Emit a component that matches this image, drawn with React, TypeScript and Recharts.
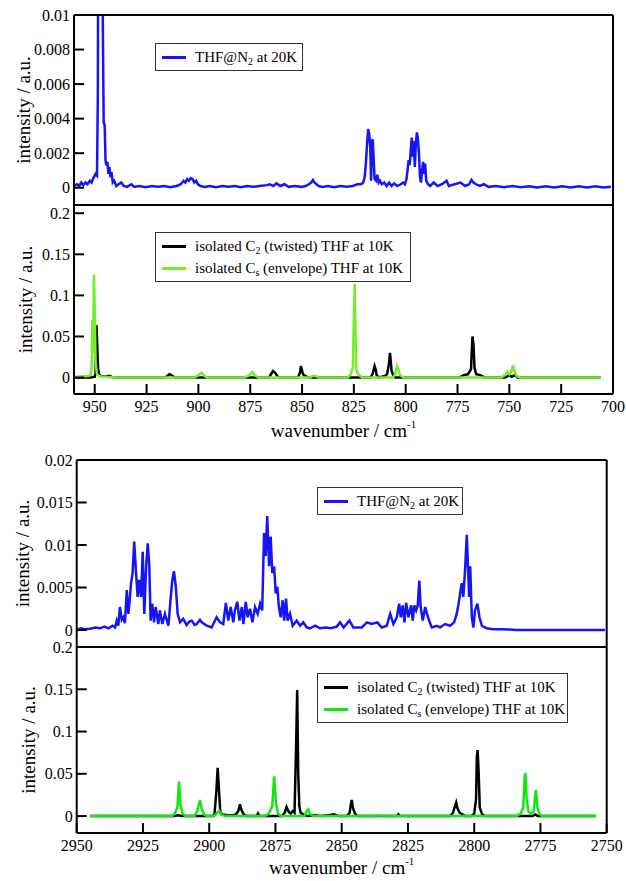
import React from "react";
import { LineChart, Line, XAxis, YAxis, Legend } from "recharts";

type Pt = [number, number];

// ---- 960-700 cm-1 window ----
const lowN2: Pt[] = [
  [960, 0.0001], [958.5, 0.0002], [957.5, 0.0001], [956.5, 0.0003], [955.5, 0.00015], [954.5, 0.0003],
  [953.5, 0.0002], [952.3, 0.0004], [951.5, 0.0003], [950.5, 0.0006], [949.6, 0.0008], [948.9, 0.0007],
  [948.5, 0.0053], [948.2, 0.02], [947.8, 0.013], [947.3, 0.022], [946.8, 0.016], [946.2, 0.011],
  [945.7, 0.0038], [945.2, 0.0036], [944.8, 0.0016], [944.4, 0.0013], [943.9, 0.0015], [943.4, 0.0008],
  [942.9, 0.0012], [942.4, 0.0006], [941.9, 0.0009], [941.3, 0.0003], [940.6, 0.0004], [939.6, 0.0001],
  [938.5, 0.0002], [937.2, 0.0003], [936, 0.0001], [934.5, 0.00005], [932.3, 0.0002], [931, 0.00005],
  [928.5, 0.0001], [925.5, 0.00003], [922.5, 0.0001], [919.5, 0.00005], [916.5, 0.0001], [913.5, 0.00003],
  [910.5, 0.0001], [908.5, 0.0002], [907.2, 0.0004], [906.3, 0.0003], [905.4, 0.0005], [904.6, 0.0004],
  [903.6, 0.00056], [902.8, 0.0005], [902, 0.0003], [901.1, 0.0004], [900.2, 0.0002], [899, 0.0001],
  [897, 0.00005], [894.5, 0.0001], [891.5, 0.00003], [888.5, 0.0001], [885.5, 0.00005], [882.5, 0.0001],
  [879.5, 0.00003], [876.5, 0.0001], [873.5, 0.00005], [870.5, 0.0001], [867, 0.00015], [865.5, 0.0002],
  [864, 0.0001], [862.3, 0.00025], [860.5, 0.0001], [858.5, 0.0002], [856.5, 0.00005], [853.5, 0.0001],
  [850.5, 0.00005], [848.3, 0.0001], [846.7, 0.0002], [845.6, 0.0003], [844.7, 0.00045], [844, 0.0003],
  [843, 0.0002], [842, 0.0001], [840, 0.00005], [837.5, 0.0001], [834.5, 0.00003], [831.5, 0.0001],
  [828.5, 0.00005], [825.5, 0.0001], [823.3, 0.0002], [821.5, 0.0002], [820.5, 0.0003], [819.8, 0.0006],
  [819.2, 0.0014], [818.6, 0.0026], [818.1, 0.0034], [817.6, 0.0031], [817.1, 0.0024], [816.7, 0.0004],
  [816.3, 0.0027], [815.9, 0.0028], [815.5, 0.0018], [815, 0.0005], [814.3, 0.0004], [813.7, 0.00075],
  [813, 0.0003], [812.4, 0.0004], [811.5, 0.0002], [810.3, 0.0003], [809.2, 0.0001], [808, 0.0003],
  [806.8, 0.0001], [805.6, 0.00025], [804.1, 0.0001], [802.4, 0.0002], [801.3, 0.0003], [800.4, 0.0002],
  [799.6, 0.0005], [799.1, 0.001], [798.6, 0.0016], [798.1, 0.0013], [797.6, 0.0021], [797.1, 0.0029],
  [796.6, 0.0018], [796.1, 0.0027], [795.6, 0.0012], [795.1, 0.0025], [794.6, 0.0032], [794.1, 0.0028],
  [793.6, 0.002], [793.1, 0.0006], [792.6, 0.0003], [792.1, 0.001], [791.6, 0.0015], [791.1, 0.0008],
  [790.6, 0.0014], [790.1, 0.0004], [789.2, 0.0002], [788.2, 0.0001], [786.5, 0.0003], [784.6, 0.0001],
  [782.5, 0.0002], [780.3, 0.0004], [779.2, 0.0001], [776.4, 0.0002], [773.6, 0.0003], [771.3, 0.0001],
  [769.4, 0.0002], [768.3, 0.00046], [767.3, 0.0003], [766.1, 0.0002], [764.2, 0.0001], [762.3, 0.0002],
  [760.1, 0.00005], [756.5, 0.0001], [752.5, 0.00003], [748.5, 0.0001], [744.5, 0.00003], [740.5, 0.00008],
  [736.5, 0.00002], [732.5, 0.00008], [728.5, 0.00002], [724.5, 0.00008], [720.5, 0.00002], [716.5, 0.00008],
  [712.5, 0.00002], [708.5, 0.00008], [704.5, 0.00002], [701, 0.00005],
];

const lowC2: Pt[] = [
  [960, 0], [952, 0], [950, 0.001], [949.6, 0.006], [949.2, 0.064], [948.8, 0.04], [948.4, 0.012],
  [948, 0.004], [947, 0.002], [945, 0.001], [943, 0.002], [941, 0], [916, 0], [915, 0.002], [914, 0.004],
  [913, 0.003], [912, 0.001], [911, 0], [866, 0], [865, 0.004], [864, 0.008], [863, 0.006], [862, 0.002],
  [861, 0], [852, 0], [851, 0.006], [850.5, 0.014], [850, 0.008], [849.5, 0.004], [848.5, 0.002], [847, 0],
  [817, 0], [816, 0.004], [815, 0.014], [814.5, 0.01], [814, 0.003], [813, 0], [810, 0.002], [809, 0.004],
  [808, 0.018], [807.6, 0.03], [807.2, 0.02], [806.8, 0.008], [806, 0.003], [805, 0], [774, 0],
  [772, 0.003], [770, 0.004], [768.5, 0.01], [767.8, 0.05], [767.3, 0.04], [766.8, 0.012], [766, 0.004],
  [764, 0.003], [762, 0], [752, 0], [750, 0.003], [749, 0.001], [747, 0.003], [746, 0], [706, 0],
];

const lowCs: Pt[] = [
  [960, 0.001], [953, 0.002], [952, 0.003], [951.5, 0.01], [951.1, 0.07], [950.8, 0.03], [950.4, 0.125],
  [950, 0.085], [949.6, 0.02], [949, 0.005], [948, 0.002], [946, 0.001], [940, 0], [902, 0],
  [900.5, 0.002], [899.5, 0.004], [898.5, 0.006], [897.5, 0.003], [896, 0], [878, 0], [876, 0.002],
  [875, 0.004], [874, 0.007], [873, 0.003], [871, 0], [846, 0], [845, 0.002], [843.5, 0.002], [842, 0],
  [828, 0], [826.5, 0.004], [825.5, 0.012], [825, 0.07], [824.6, 0.114], [824.2, 0.05], [823.8, 0.01],
  [823, 0.004], [821, 0], [806, 0], [805, 0.005], [804.2, 0.014], [803.5, 0.01], [802.8, 0.003], [801, 0],
  [754, 0], [752, 0.003], [751, 0.007], [750, 0.004], [749, 0.008], [748.3, 0.015], [747.6, 0.008],
  [746.5, 0.002], [745, 0], [706, 0],
];

// ---- 2950-2750 cm-1 window ----
const highN2: Pt[] = [
  [2949.4, 0.0001], [2948.5, 0.0002], [2947, 0.0001], [2945, 0.00015], [2943, 0.0003], [2941.2, 0.0002],
  [2939.5, 0.0004], [2938, 0.0002], [2936.5, 0.0005], [2935.5, 0.0003], [2934.9, 0.0011], [2934.3, 0.0005],
  [2933.7, 0.0027], [2933, 0.0012], [2932.4, 0.0015], [2931.8, 0.0008], [2931.1, 0.0047], [2930.5, 0.0019],
  [2930, 0.0035], [2929.5, 0.0055], [2928.9, 0.0067], [2928.3, 0.0104], [2927.6, 0.0067], [2927, 0.0039],
  [2926.4, 0.0059], [2925.7, 0.0039], [2925.1, 0.0092], [2924.5, 0.0019], [2923.8, 0.0075], [2923.2, 0.0102],
  [2922.6, 0.0075], [2922.1, 0.0011], [2921.5, 0.0031], [2920.8, 0.0009], [2920.2, 0.0027], [2919.2, 0.0007],
  [2918.6, 0.0023], [2917.7, 0.0007], [2916.7, 0.0019], [2915.4, 0.0005], [2914.5, 0.0039], [2913.9, 0.0059],
  [2913.3, 0.0069], [2912.6, 0.0051], [2911.9, 0.0019], [2911, 0.0009], [2909.8, 0.0013], [2908.5, 0.0006],
  [2907.5, 0.001], [2906.6, 0.0011], [2905.5, 0.0006], [2904.7, 0.0007], [2903.5, 0.0012], [2902.8, 0.0009],
  [2900.9, 0.0005], [2899.1, 0.0003], [2897.2, 0.0015], [2895.9, 0.0009], [2894.7, 0.0007], [2893.7, 0.0032],
  [2892.8, 0.0011], [2891.9, 0.0027], [2890.9, 0.0009], [2890.3, 0.0023], [2889.4, 0.0033], [2888.6, 0.0011],
  [2887.7, 0.0027], [2887.1, 0.0007], [2886.2, 0.0033], [2885.5, 0.0015], [2884.6, 0.0025], [2883.7, 0.0009],
  [2882.7, 0.0027], [2881.7, 0.0019], [2880.8, 0.0031], [2880, 0.0023], [2879.3, 0.0114], [2878.7, 0.0087],
  [2878.1, 0.0134], [2877.4, 0.0075], [2876.8, 0.011], [2876.2, 0.0067], [2875.5, 0.0075], [2874.9, 0.0043],
  [2874.3, 0.0051], [2873.7, 0.0027], [2873, 0.0015], [2872.3, 0.0035], [2871.7, 0.0011], [2871, 0.0037],
  [2870.4, 0.0011], [2869.5, 0.0019], [2868.5, 0.0005], [2867, 0.0011], [2865.7, 0.0005], [2864.5, 0.0009],
  [2863.2, 0.0003], [2862, 0.0002], [2860, 0.0005], [2858.2, 0.0002], [2856, 0.0003], [2854, 0.0002],
  [2851.9, 0.0004], [2850.6, 0.0009], [2849.3, 0.0003], [2847.1, 0.0011], [2845.6, 0.0003], [2842.4, 0.0003],
  [2840.5, 0.0009], [2838.7, 0.0007], [2836.5, 0.0009], [2834.9, 0.0003], [2833, 0.0005], [2831.7, 0.0019],
  [2830.5, 0.0007], [2829.2, 0.0015], [2828.3, 0.0031], [2827.7, 0.0015], [2827, 0.0029], [2826.3, 0.0009],
  [2825.7, 0.0032], [2824.8, 0.0015], [2823.8, 0.0029], [2823.2, 0.0011], [2822.6, 0.0029], [2821.9, 0.0023],
  [2821.3, 0.0029], [2820.7, 0.0058], [2820.2, 0.0027], [2819.4, 0.0011], [2818.5, 0.0027], [2817.8, 0.0019],
  [2817, 0.0011], [2816, 0.0003], [2814.1, 0.0005], [2812.9, 0.0003], [2811, 0.0007], [2809.1, 0.0005],
  [2807.6, 0.0009], [2806.6, 0.0019], [2805.9, 0.0031], [2804.7, 0.0055], [2804.1, 0.0039], [2803.4, 0.0073],
  [2802.8, 0.0112], [2802.4, 0.0079], [2801.9, 0.0039], [2801.5, 0.0075], [2800.9, 0.0015], [2800.3, 0.0003],
  [2799.7, 0.0023], [2798.8, 0.0031], [2798, 0.0015], [2797.1, 0.0005], [2795.3, 0.0002], [2793, 0.0001],
  [2790.2, 0.0001], [2787, 0.00005], [2783.9, 0], [2775, 0], [2765, 0], [2752.5, 0], [2750.6, 0],
];

const highC2: Pt[] = [
  [2945, 0], [2913, 0], [2912, 0.001], [2910, 0], [2898.5, 0], [2898, 0.002], [2897.3, 0.03],
  [2896.8, 0.057], [2896.3, 0.03], [2895.8, 0.004], [2895, 0.002], [2893, 0.001], [2891, 0.001],
  [2890, 0.002], [2889, 0.006], [2888.4, 0.014], [2887.8, 0.007], [2887, 0.002], [2886, 0], [2882, 0],
  [2881.6, 0.003], [2881, 0], [2872.5, 0], [2871.5, 0.004], [2870.8, 0.011], [2870, 0.005], [2869.2, 0.003],
  [2868.5, 0.006], [2867.8, 0.004], [2867.2, 0.084], [2866.8, 0.149], [2866.4, 0.05], [2866, 0.012],
  [2865.5, 0.004], [2864.5, 0.002], [2863, 0], [2860, 0.001], [2858, 0], [2855, 0.001], [2853, 0.002],
  [2851, 0], [2848, 0], [2847, 0.004], [2846.5, 0.015], [2846.2, 0.019], [2845.8, 0.01], [2845, 0.003],
  [2844, 0], [2829, 0], [2828.6, 0.002], [2828, 0], [2809, 0], [2808, 0.004], [2807.2, 0.012],
  [2806.8, 0.016], [2806.3, 0.009], [2805.5, 0.004], [2804.5, 0.002], [2803.5, 0], [2801, 0], [2800, 0.003],
  [2799.3, 0.02], [2799, 0.07], [2798.7, 0.078], [2798.3, 0.05], [2797.9, 0.01], [2797, 0.002], [2796, 0],
  [2778, 0], [2777, 0.002], [2776, 0], [2754, 0],
];

const highCs: Pt[] = [
  [2945, 0], [2914, 0], [2913, 0.003], [2912, 0.01], [2911.4, 0.041], [2910.8, 0.012], [2910, 0.003],
  [2909, 0], [2905.5, 0], [2904.5, 0.006], [2903.5, 0.019], [2902.8, 0.008], [2902, 0.002], [2901, 0],
  [2898, 0], [2897, 0.004], [2896.2, 0.006], [2895.5, 0.002], [2894, 0], [2879, 0], [2877.5, 0.003],
  [2876.2, 0.012], [2875.5, 0.047], [2874.8, 0.015], [2874, 0.003], [2873, 0], [2864, 0], [2863.2, 0.006],
  [2862.6, 0.008], [2862, 0.003], [2861, 0], [2837, 0], [2836.1, 0.001], [2835, 0], [2784, 0],
  [2782.5, 0.003], [2781.5, 0.01], [2781, 0.045], [2780.7, 0.051], [2780.2, 0.02], [2779.5, 0.005],
  [2778.5, 0.003], [2777.5, 0.006], [2777, 0.025], [2776.7, 0.031], [2776.2, 0.012], [2775.5, 0.003],
  [2774.5, 0], [2754, 0],
];

// ---- axis ticks ----
const lowMajorX = [950, 925, 900, 875, 850, 825, 800, 775, 750, 725, 700];
const lowMinorX = [937.5, 912.5, 887.5, 862.5, 837.5, 812.5, 787.5, 762.5, 737.5, 712.5];
const highMajorX = [2950, 2925, 2900, 2875, 2850, 2825, 2800, 2775, 2750];
const highMinorX = [2937.5, 2912.5, 2887.5, 2862.5, 2837.5, 2812.5, 2787.5, 2762.5];

const lowN2MajorY = [0, 0.002, 0.004, 0.006, 0.008, 0.01];
const lowN2MinorY = [0.001, 0.003, 0.005, 0.007, 0.009];
const highN2MajorY = [0, 0.005, 0.01, 0.015, 0.02];
const highN2MinorY = [0.0025, 0.0075, 0.0125, 0.0175];
const isoMajorY = [0, 0.05, 0.1, 0.15, 0.2];
const isoMinorY = [0.025, 0.075, 0.125, 0.175];

const N2_LABEL = "THF@N_2 at 20K";
const C2_LABEL = "isolated C_2 (twisted) THF at 10K";
const CS_LABEL = "isolated C_s (envelope) THF at 10K";

const BLUE = "#1515f5";
const BLACK = "#000";
const LIME = "#72ee2a";
const GREEN = "#14e614";

const SERIF = '"Liberation Serif", "DejaVu Serif", serif';
const W = 626;
const EPS = 0.001; // axes need a non-zero size to render
const FRAME = { stroke: "#000", strokeWidth: 2 };
const TICK_LINE = { stroke: "#000", strokeWidth: 2 };
const TICK_TEXT = { fill: "#000", fontSize: 16, fontFamily: SERIF };

interface Series {
  name: string;
  color: string;
  points: Pt[];
}

interface PanelProps {
  top: number;
  height: number;
  margin: { top: number; right: number; bottom: number; left: number };
  xDomain: [number, number];
  xMajor: number[];
  xMinor: number[];
  yDomain: [number, number];
  yMajor: number[];
  yMinor: number[];
  series: Series[];
  legendAt: { left: number; top: number; width: number };
  yTitleGap: number;
  xTitleGap?: number;
}

// "C_2" -> C with a subscript 2
function withSubscripts(text: string) {
  return text.split(/_(\w)/).map((part, i) =>
    i % 2 === 1 ? (
      <span key={i} style={{ fontSize: 10, position: "relative", top: 4 }}>{part}</span>
    ) : (
      <span key={i} style={{ whiteSpace: "pre" }}>{part}</span>
    )
  );
}

function LegendBox({ payload, width }: { payload?: any[]; width: number }) {
  return (
    <div
      style={{
        width,
        boxSizing: "border-box",
        border: "1px solid #333",
        background: "#fff",
        padding: "2px 0 2px 6px",
        fontFamily: SERIF,
      }}
    >
      {(payload ?? []).map((e: any) => (
        <div
          key={e.value}
          style={{ display: "flex", alignItems: "center", height: 22, fontSize: 15, color: "#000", whiteSpace: "nowrap" }}
        >
          <span style={{ width: 24, height: 3, background: e.color, marginRight: 9, flex: "none" }} />
          {withSubscripts(e.value)}
        </div>
      ))}
    </div>
  );
}

function Panel(p: PanelProps) {
  const plotW = W - p.margin.left - p.margin.right;
  const plotH = p.height - p.margin.top - p.margin.bottom;
  const showX = p.xTitleGap !== undefined;

  const yTitle = (props: any) => {
    const vb = props?.viewBox ?? { x: p.margin.left, y: p.margin.top, width: 0, height: plotH };
    const cx = vb.x - p.yTitleGap;
    const cy = vb.y + vb.height / 2;
    return (
      <text
        x={cx}
        y={cy}
        transform={`rotate(-90 ${cx} ${cy})`}
        textAnchor="middle"
        fontSize={19}
        fontFamily={SERIF}
        fill="#000"
      >
        intensity / a.u.
      </text>
    );
  };

  const xTitle = (props: any) => {
    const vb = props?.viewBox ?? { x: p.margin.left, y: p.height - p.margin.bottom, width: plotW, height: 0 };
    const cx = vb.x + vb.width / 2;
    const y = vb.y + vb.height + (p.xTitleGap ?? 0);
    return (
      <text x={cx} y={y} textAnchor="middle" fontSize={19} fontFamily={SERIF} fill="#000">
        wavenumber / cm
        <tspan dy={-9} fontSize={11}>-1</tspan>
      </text>
    );
  };

  const xCommon = { type: "number" as const, domain: p.xDomain, reversed: true, allowDataOverflow: true, interval: 0 as const, height: EPS };
  const yCommon = { type: "number" as const, domain: p.yDomain, allowDataOverflow: true, interval: 0 as const, width: EPS };

  return (
    <div style={{ position: "absolute", left: 0, top: p.top }}>
      <LineChart width={W} height={p.height} margin={p.margin} style={{ fontFamily: SERIF }}>
        {/* bottom edge: major ticks (labelled on the lower panel) and minor ticks */}
        <XAxis
          xAxisId="x"
          dataKey="wn"
          {...xCommon}
          ticks={p.xMajor}
          tickSize={-10}
          tickMargin={17}
          axisLine={FRAME}
          tickLine={TICK_LINE}
          tick={showX ? TICK_TEXT : false}
          label={showX ? { content: xTitle } : undefined}
        />
        <XAxis xAxisId="xm" {...xCommon} ticks={p.xMinor} tickSize={-6} axisLine={false} tickLine={TICK_LINE} tick={false} />
        {/* top edge */}
        <XAxis xAxisId="xt" orientation="top" {...xCommon} ticks={p.xMajor} tickSize={-10} axisLine={FRAME} tickLine={TICK_LINE} tick={false} />
        <XAxis xAxisId="xtm" orientation="top" {...xCommon} ticks={p.xMinor} tickSize={-6} axisLine={false} tickLine={TICK_LINE} tick={false} />
        {/* left edge */}
        <YAxis
          yAxisId="y"
          {...yCommon}
          ticks={p.yMajor}
          tickSize={-10}
          tickMargin={14}
          axisLine={FRAME}
          tickLine={TICK_LINE}
          tick={TICK_TEXT}
          label={{ content: yTitle }}
        />
        <YAxis yAxisId="ym" {...yCommon} ticks={p.yMinor} tickSize={-6} axisLine={false} tickLine={TICK_LINE} tick={false} />
        {/* right edge */}
        <YAxis yAxisId="yr" orientation="right" {...yCommon} ticks={p.yMajor} tickSize={-10} axisLine={FRAME} tickLine={TICK_LINE} tick={false} />
        <YAxis yAxisId="yrm" orientation="right" {...yCommon} ticks={p.yMinor} tickSize={-6} axisLine={false} tickLine={TICK_LINE} tick={false} />

        <Legend
          layout="vertical"
          verticalAlign="middle"
          align="center"
          wrapperStyle={{ left: p.legendAt.left, top: p.legendAt.top, width: p.legendAt.width }}
          content={(props: any) => <LegendBox payload={props.payload} width={p.legendAt.width} />}
        />

        {p.series.map((s) => (
          <Line
            key={s.name}
            xAxisId="x"
            yAxisId="y"
            type="linear"
            data={s.points.map(([wn, v]) => ({ wn, v }))}
            dataKey="v"
            name={s.name}
            stroke={s.color}
            strokeWidth={2.5}
            dot={false}
            activeDot={false}
            isAnimationActive={false}
          />
        ))}
      </LineChart>
    </div>
  );
}

export default function App() {
  return (
    <div
      style={{ position: "absolute", left: 0, top: 0, width: W, height: 881, background: "#fff", fontFamily: SERIF }}
    >
      <Panel
        top={0}
        height={215}
        margin={{ top: 15, right: 13, bottom: 10, left: 74 }}
        xDomain={[700, 960]}
        xMajor={lowMajorX}
        xMinor={lowMinorX}
        yDomain={[-0.001, 0.01]}
        yMajor={lowN2MajorY}
        yMinor={lowN2MinorY}
        series={[{ name: N2_LABEL, color: BLUE, points: lowN2 }]}
        legendAt={{ left: 155, top: 43, width: 148 }}
        yTitleGap={44}
      />
      <Panel
        top={195}
        height={250}
        margin={{ top: 10, right: 13, bottom: 51, left: 74 }}
        xDomain={[700, 960]}
        xMajor={lowMajorX}
        xMinor={lowMinorX}
        yDomain={[-0.02, 0.21]}
        yMajor={isoMajorY}
        yMinor={isoMinorY}
        series={[
          { name: C2_LABEL, color: BLACK, points: lowC2 },
          { name: CS_LABEL, color: LIME, points: lowCs },
        ]}
        legendAt={{ left: 155, top: 37, width: 256 }}
        yTitleGap={42}
        xTitleGap={43}
      />
      <Panel
        top={450}
        height={207}
        margin={{ top: 10, right: 19.3, bottom: 10, left: 76.7 }}
        xDomain={[2750, 2950]}
        xMajor={highMajorX}
        xMinor={highMinorX}
        yDomain={[-0.002, 0.02]}
        yMajor={highN2MajorY}
        yMinor={highN2MinorY}
        series={[{ name: N2_LABEL, color: BLUE, points: highN2 }]}
        legendAt={{ left: 317, top: 37, width: 146 }}
        yTitleGap={48}
      />
      <Panel
        top={637}
        height={244}
        margin={{ top: 10, right: 19.3, bottom: 48, left: 76.7 }}
        xDomain={[2750, 2950]}
        xMajor={highMajorX}
        xMinor={highMinorX}
        yDomain={[-0.02, 0.2]}
        yMajor={isoMajorY}
        yMinor={isoMinorY}
        series={[
          { name: C2_LABEL, color: BLACK, points: highC2 },
          { name: CS_LABEL, color: GREEN, points: highCs },
        ]}
        legendAt={{ left: 317, top: 36, width: 251 }}
        yTitleGap={42}
        xTitleGap={41}
      />
    </div>
  );
}
